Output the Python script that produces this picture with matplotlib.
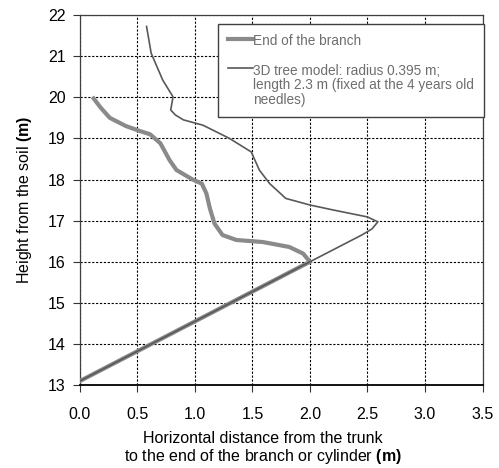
import matplotlib
matplotlib.use("Agg")
import matplotlib.pyplot as plt

plt.rcParams["font.family"] = ["Liberation Sans", "DejaVu Sans"]
plt.rcParams["mathtext.fontset"] = "custom"
plt.rcParams["mathtext.rm"] = "Liberation Sans"
plt.rcParams["mathtext.bf"] = "Liberation Sans:bold"

# End of the branch
branch_x = [0.0, 2.0, 1.97, 1.94, 1.82, 1.59, 1.36, 1.24, 1.17, 1.13, 1.10,
            1.06, 0.98, 0.84, 0.78, 0.70, 0.61, 0.52, 0.40, 0.26, 0.18, 0.12]
branch_y = [13.1, 16.0, 16.1, 16.2, 16.36, 16.48, 16.53, 16.65, 16.93, 17.3, 17.66,
            17.9, 18.0, 18.23, 18.47, 18.88, 19.1, 19.18, 19.3, 19.5, 19.75, 19.97]

# 3D tree model
model_x = [0.0, 2.0, 2.45, 2.54, 2.59, 2.5, 2.2, 2.0, 1.79, 1.65, 1.56, 1.49,
           1.30, 1.07, 0.90, 0.83, 0.79, 0.81, 0.72, 0.62, 0.58]
model_y = [13.1, 16.0, 16.65, 16.8, 16.97, 17.09, 17.26, 17.38, 17.54, 17.9, 18.23, 18.67,
           19.0, 19.32, 19.45, 19.57, 19.69, 20.01, 20.42, 21.07, 21.72]

fig = plt.figure(figsize=(4.99, 4.68), dpi=100)
ax = fig.add_axes([0.16, 0.177, 0.807, 0.791])

ax.plot(branch_x, branch_y, color="#8a8a8a", lw=3, solid_joinstyle="round",
        label="End of the branch", zorder=3)
ax.plot(model_x, model_y, color="#595959", lw=1.2,
        label="3D tree model: radius 0.395 m;\nlength 2.3 m (fixed at the 4 years old\nneedles)",
        zorder=4)

ax.set_xlim(0, 3.5)
ax.set_ylim(13, 22)
ax.set_xticks([0.0, 0.5, 1.0, 1.5, 2.0, 2.5, 3.0, 3.5])
ax.set_xticklabels(["0.0", "0.5", "1.0", "1.5", "2.0", "2.5", "3.0", "3.5"])
ax.set_yticks(range(13, 23))
ax.grid(True, color="black", linestyle=(0, (2, 1.5)), linewidth=0.8)
ax.tick_params(labelsize=11.5, length=5, width=0.8, color="#333333")
ax.tick_params(axis="x", pad=11)
ax.tick_params(axis="y", pad=5)
for s in ax.spines.values():
    s.set_color("#404040")
    s.set_linewidth(0.9)
ax.spines["bottom"].set_color("black")
ax.spines["bottom"].set_linewidth(1.3)

ax.set_xlabel("Horizontal distance from the trunk\nto the end of the branch or cylinder $\\mathbf{(m)}$",
              fontsize=11.5, linespacing=1.05)
ax.xaxis.set_label_coords(0.455, -0.125, transform=ax.transAxes)
ax.xaxis.label.set_va("top")
ax.set_ylabel("Height from the soil $\\mathbf{(m)}$", fontsize=11.5, labelpad=10)

leg = ax.legend(loc="upper left", bbox_to_anchor=(0.343, 0.976), fontsize=9.8,
                frameon=True, fancybox=False, edgecolor="#404040", framealpha=1,
                handlelength=1.8, handletextpad=0.0, borderpad=0.75,
                labelspacing=1.15, borderaxespad=0)
leg.get_frame().set_linewidth(1.0)
for t in leg.get_texts():
    t.set_color("#6e6e6e")
    t.set_linespacing(1.05)
# put each handle next to the first line of its label
for col in leg._legend_handle_box.get_children():
    for item in col.get_children():
        item.align = "top"

fig.savefig("out.png", dpi=100)
